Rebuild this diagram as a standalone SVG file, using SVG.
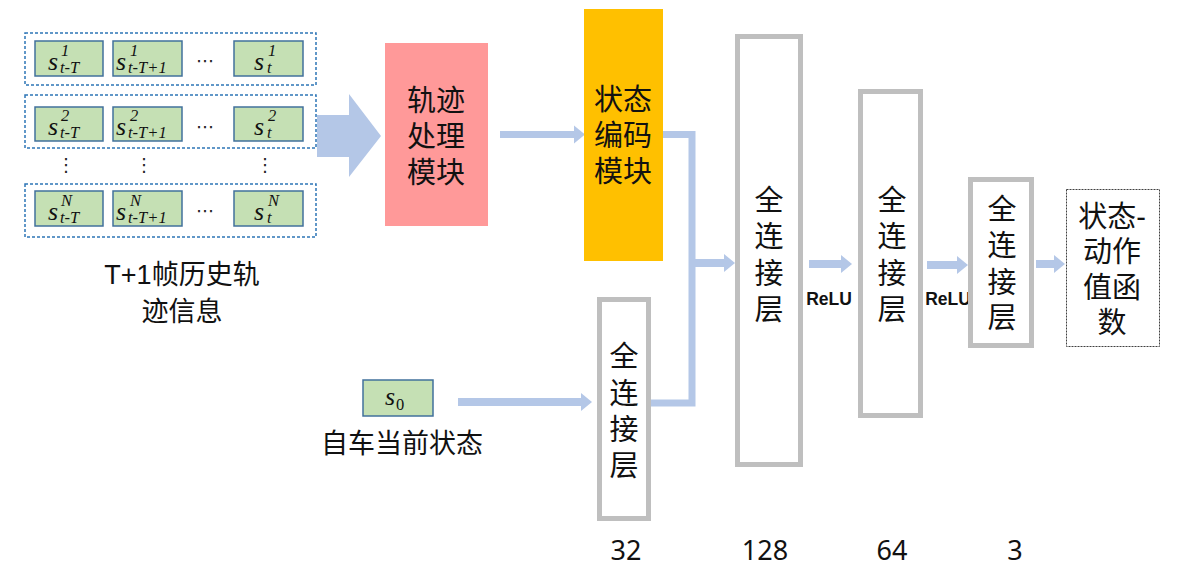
<svg xmlns="http://www.w3.org/2000/svg" width="1180" height="577" viewBox="0 0 1180 577">
  <defs>
    <style>
      .cjk { font-family: "Liberation Sans", "Noto Sans CJK SC", sans-serif; fill: #111; }
      .big { font-size: 29px; text-anchor: middle; }
      .lbl { font-size: 27px; text-anchor: middle; }
      .num { font-family: "Noto Sans", "Noto Sans CJK SC", sans-serif; font-size: 27px; fill: #111; text-anchor: middle; }
      .relu { font-family: "Liberation Sans", Arial, sans-serif; font-weight: bold; font-size: 17.5px; fill: #111; text-anchor: middle; }
      .grp { fill: none; stroke: #2E75B6; stroke-width: 1.5; stroke-dasharray: 3 2; }
      .cell { fill: #C5E0B4; stroke: #41719C; stroke-width: 1.5; }
      .s { font-family: "Liberation Serif", "DejaVu Serif", serif; font-style: italic; font-size: 26px; fill: #111; }
      .sc { font-family: "Liberation Serif", "DejaVu Serif", serif; font-style: italic; font-size: 16.5px; fill: #111; }
      .dots { font-family: "DejaVu Sans", sans-serif; font-size: 18px; fill: #222; text-anchor: middle; dominant-baseline: central; }
      .fc { fill: #fff; stroke: #BFBFBF; stroke-width: 5; }
      .flow { fill: none; stroke: #B4C7E7; stroke-width: 8; }
    </style>
    <marker id="head" markerUnits="userSpaceOnUse" markerWidth="11" markerHeight="20" refX="0" refY="10" orient="auto">
      <path d="M0,1 L11,10 L0,19 Z" fill="#B4C7E7"/>
    </marker>
  </defs>

  <!-- history trajectory rows -->
  <g id="history">
    <g id="row1">
      <rect class="grp" x="25" y="33" width="291" height="52"/>
      <rect class="cell" x="35" y="41" width="68" height="35"/>
      <rect class="cell" x="113" y="41" width="69" height="35"/>
      <rect class="cell" x="234" y="41" width="69" height="35"/>
      <text class="s" x="48" y="70">s</text><text class="sc" x="61" y="56">1</text><text class="sc" x="60" y="73">t-T</text>
      <text class="s" x="116" y="70">s</text><text class="sc" x="130" y="56">1</text><text class="sc" x="128" y="73">t-T+1</text>
      <text class="s" x="254" y="70">s</text><text class="sc" x="268" y="56">1</text><text class="sc" x="267" y="73">t</text>
      <text class="dots" x="205" y="60">⋯</text>
    </g>
    <g id="row2">
      <rect class="grp" x="25" y="95" width="291" height="53"/>
      <rect class="cell" x="35" y="107" width="68" height="34"/>
      <rect class="cell" x="113" y="107" width="69" height="34"/>
      <rect class="cell" x="234" y="107" width="69" height="34"/>
      <text class="s" x="48" y="135">s</text><text class="sc" x="61" y="121">2</text><text class="sc" x="60" y="138">t-T</text>
      <text class="s" x="116" y="135">s</text><text class="sc" x="130" y="121">2</text><text class="sc" x="128" y="138">t-T+1</text>
      <text class="s" x="254" y="135">s</text><text class="sc" x="268" y="121">2</text><text class="sc" x="267" y="138">t</text>
      <text class="dots" x="205" y="126">⋯</text>
    </g>
    <g id="vdots">
      <text class="dots" x="66" y="164">⋮</text>
      <text class="dots" x="144" y="164">⋮</text>
      <text class="dots" x="265" y="164">⋮</text>
    </g>
    <g id="rowN">
      <rect class="grp" x="25" y="184" width="291" height="53"/>
      <rect class="cell" x="35" y="191" width="68" height="35"/>
      <rect class="cell" x="113" y="191" width="69" height="35"/>
      <rect class="cell" x="234" y="191" width="69" height="35"/>
      <text class="s" x="48" y="220">s</text><text class="sc" x="61" y="206">N</text><text class="sc" x="60" y="223">t-T</text>
      <text class="s" x="116" y="220">s</text><text class="sc" x="130" y="206">N</text><text class="sc" x="128" y="223">t-T+1</text>
      <text class="s" x="254" y="220">s</text><text class="sc" x="268" y="206">N</text><text class="sc" x="267" y="223">t</text>
      <text class="dots" x="205" y="210">⋯</text>
    </g>
    <text class="cjk lbl" x="182" y="284">T+1帧历史轨<tspan x="182" dy="37">迹信息</tspan></text>
  </g>

  <!-- ego vehicle state -->
  <g id="ego">
    <rect class="cell" x="363" y="380" width="70" height="36"/>
    <text class="s" x="385" y="405">s</text><text class="sc" x="396" y="410" style="font-style:normal">0</text>
    <text class="cjk lbl" x="402" y="453">自车当前状态</text>
  </g>

  <!-- connectors -->
  <g id="connectors">
    <polygon points="317,115 349,115 349,94 381,136 349,177 349,157 317,157" fill="#B4C7E7"/>
    <path class="flow" d="M500,134.5 H574" style="stroke-width:7" marker-end="url(#head)"/>
    <path class="flow" d="M663,134.5 H692 V403 H651" style="stroke-width:7"/>
    <path class="flow" d="M692,263 H724" marker-end="url(#head)"/>
    <path class="flow" d="M458,402 H581" marker-end="url(#head)"/>
    <path class="flow" d="M809,264 H841" marker-end="url(#head)"/>
    <path class="flow" d="M927,265 H957" marker-end="url(#head)"/>
    <path class="flow" d="M1036,264 H1054" marker-end="url(#head)"/>
  </g>

  <g id="traj-module">
    <rect x="385" y="43" width="103" height="183" fill="#FF9999"/>
    <text class="cjk big" x="436" y="111">轨迹<tspan x="436" dy="36">处理</tspan><tspan x="436" dy="36">模块</tspan></text>
  </g>

  <g id="state-encoder">
    <rect x="584" y="9" width="79" height="252" fill="#FFC000"/>
    <text class="cjk big" x="623" y="110">状态<tspan x="623" dy="36">编码</tspan><tspan x="623" dy="36">模块</tspan></text>
  </g>

  <g id="fc32">
    <rect class="fc" x="599.5" y="299.5" width="49" height="219"/>
    <text class="cjk big" x="624" y="367">全<tspan x="624" dy="36.5">连</tspan><tspan x="624" dy="36">接</tspan><tspan x="624" dy="36">层</tspan></text>
    <text class="num" x="626" y="560">32</text>
  </g>

  <g id="fc128">
    <rect class="fc" x="737.5" y="36.5" width="63" height="428"/>
    <text class="cjk big" x="769" y="211">全<tspan x="769" dy="36">连</tspan><tspan x="769" dy="37">接</tspan><tspan x="769" dy="36">层</tspan></text>
    <text class="num" x="765" y="560">128</text>
  </g>

  <text class="relu" x="829" y="305">ReLU</text>

  <g id="fc64">
    <rect class="fc" x="860.5" y="91.5" width="60" height="324"/>
    <text class="cjk big" x="892" y="211">全<tspan x="892" dy="36">连</tspan><tspan x="892" dy="37">接</tspan><tspan x="892" dy="36">层</tspan></text>
    <text class="num" x="892" y="560">64</text>
  </g>

  <text class="relu" x="948" y="305">ReLU</text>

  <g id="fc3">
    <rect class="fc" x="970.5" y="179.5" width="61" height="166"/>
    <text class="cjk big" x="1002" y="220">全<tspan x="1002" dy="36">连</tspan><tspan x="1002" dy="37">接</tspan><tspan x="1002" dy="35">层</tspan></text>
    <text class="num" x="1015" y="560">3</text>
  </g>

  <g id="q-value">
    <rect x="1066.5" y="189.5" width="93" height="157" fill="#fff" stroke="#404040" stroke-width="1" stroke-dasharray="2 1"/>
    <text class="cjk big" x="1112" y="227">状态-<tspan x="1112" dy="35">动作</tspan><tspan x="1112" dy="36">值函</tspan><tspan x="1112" dy="35">数</tspan></text>
  </g>
</svg>
